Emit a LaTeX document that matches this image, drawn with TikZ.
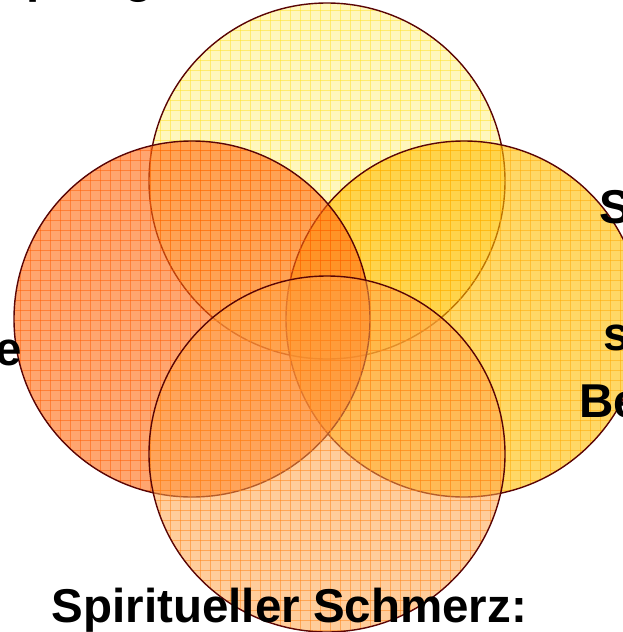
\documentclass[tikz,border=0pt]{standalone}
\usepackage{fontspec}
\setmainfont{Liberation Sans}
\definecolor{ctop}{HTML}{FFF07A}
\definecolor{ctopg}{HTML}{FFE020}
\definecolor{cleft}{HTML}{FF6A10}
\definecolor{cleftg}{HTML}{FF5A00}
\definecolor{cright}{HTML}{FFBE00}
\definecolor{crightg}{HTML}{FFA800}
\definecolor{cbot}{HTML}{FFA44A}
\definecolor{cbotg}{HTML}{FF8010}
\definecolor{edge}{HTML}{5A0505}
\tikzset{
  lbl/.style={inner sep=0pt, font=\fontsize{47.5}{57}\selectfont\bfseries},
  rim/.style={draw=edge, line width=1.4pt},
}
\newcommand{\vcircle}[6]{%
  \begin{scope}
    \fill[#4, opacity=#6] (#1,#2) circle (#3);
    \clip (#1,#2) circle (#3);
    \foreach \k in {0,10,...,640} {
      \draw[#5, opacity=0.5, line width=0.9pt] (\k,0) -- (\k,640);
      \draw[#5, opacity=0.5, line width=0.9pt] (0,\k) -- (640,\k);
    }
  \end{scope}
  \draw[rim] (#1,#2) circle (#3);
}
\begin{document}
\begin{tikzpicture}[x=1pt,y=-1pt]
\useasboundingbox (0,0) rectangle (623,632);
\fill[white] (0,0) rectangle (623,632);
\vcircle{327}{181}{178}{ctop}{ctopg}{0.5}
\vcircle{464}{319}{178}{cright}{crightg}{0.6}
\vcircle{192}{319}{178}{cleft}{cleftg}{0.6}
\vcircle{327}{454}{178}{cbot}{cbotg}{0.55}
\node[lbl, anchor=base] (bot) at (289.5,622) {Spiritueller Schmerz:};
\node[lbl, anchor=base west] (r1) at (599,223) {S};
\node[lbl, anchor=base west] (r2) at (603,350) {s};
\node[lbl, anchor=base west] (r3) at (579,417) {Be};
\node[lbl, anchor=base east] (l1) at (22,365) {e};
\node[lbl, anchor=base west] (t1) at (26.5,-7.5) {p};
\node[lbl, anchor=base west] (t2) at (124,-7.5) {g};
\end{tikzpicture}
\end{document}
